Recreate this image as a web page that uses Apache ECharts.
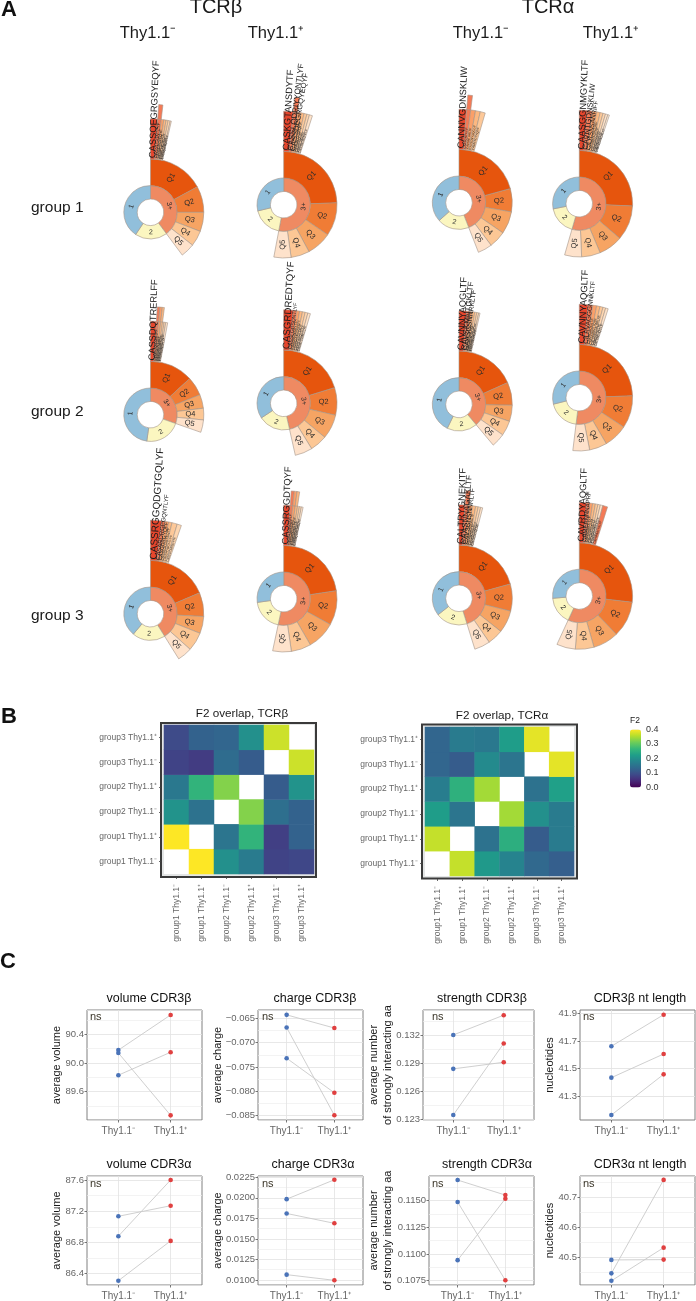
<!DOCTYPE html>
<html><head><meta charset="utf-8">
<style>html,body{margin:0;padding:0;background:#fff}#c{width:696px;height:1301px}</style>
<script src="https://cdn.jsdelivr.net/npm/echarts@6/dist/echarts.min.js"></script>
</head><body><div id="c"></div>
<script>
const FONT = '"Liberation Sans", Arial, sans-serif';
/* ---------- Panel A data (row by row, degrees of arc) ---------- */
const ringOne = [146.3,103.5,132,101.3, 172,123.1,154,104, 140,98,128.1,95];
const ringTwo = [70.3,65.8,69.4,62.7, 78.7,69.5,66,69, 72,70,69.2,60.2];
const quintiles = [
 [61.5,28.5,21,17,15.4],[88,36.4,27.3,20.3,18.7],[74.7,25.3,24.5,18.5,15.6],[92.5,38.1,26.4,20.5,18.5],
 [47.3,20.7,15,12.7,13.6],[72.9,30.1,26.6,18.8,19],[66,25,17.7,16.3,15],[88,35.5,26.1,19.2,18.2],
 [67,26,18.6,20.4,16],[81.4,37.6,31,21.7,20.3],[74.4,29.6,24.4,17.1,17.2],[96.8,39.2,28,20.3,20.5]];
const cloneArcs = [
 [4.4,2.2,1.6,1.4,1.3,1.3,0.7],[5.9,2.6,2.2,1.9,1.8,1.6,1.9],[4.7,2.5,3,3,3.1],[4.9,3.2,2.6,2.2,1.8,1.6,1.5,1],
 [3.6,1.4,1.3,1.1,1,1,1.2],[5.9,2,1.9,1.8,1.7,1.7,1.6],[4.7,2,1.6,1.4,1.3,1.2,0.8],[5.5,2.8,2.4,2.1,1.9,1.7,1.6],
 [6.9,2.2,2.1,2.1,3.3,2.7],[4,1.6,1.5,1.4,1.2,1.2,1.1],[3.7,2.4,2.2,2,1.6,1.5,1.3],[4.5,1.9,1.8,1.7,1.6,1.5,1.6,3]];
const cloneTall = [ [1],[1],[1],[], [1,2,3],[],[],[], [],[1,2,3],[1],[] ];
const cloneNames = [
 ['CASSQEGRGSYEQYF','CASSLGGNTLYF','CASSDRGYEQYF','CASSPGTGGYTF','CASRDWGYEQYF','CASSLDRGPFF','CASSQDNQAPLF'],
 ['CASKGTANSDYTF','CASSLQDRIYYQNTLYF','CASSDEGRGQYEQYF','CASSLGGEQFF','CASSPRQGFF','CASSIGAEQFF','CASSRGNQAPLF'],
 ['CANNVGDNSKLIW','CAASGNYKYIF','CAVSNTGKLTF','CALSDNYAQGLIF','CAMNSGTYQRF'],
 ['CAASGGNMGYKLTF','CAVNTGDNSKLIW','CILRSNSANRIFF','CAVSMNYNQGKF','CALGSALGRLHF','CAASRNNRIFF','CAVTNAYKVIF','CAMREGADRLTF'],
 ['CASSDQTRERLFF','CASRGQGAERLFF','CASSLDRGEQFF','CASRDNYAEQFF','CASSPGGAETLYF','CASSLGWGDTQYF','CASSRDNSPLYF'],
 ['CASGRDREDTQYF','CASSLGGSQNTLYF','CASSRGNSDYTF','CASSQDWGGAEQFF','CASSPTGGYEQYF','CASSLRGQNTLYF','CASRTGGAETLYF'],
 ['CAVNNYAQGLTF','CAVSKMNTGKLTF','CAASGSNNRKLTF','CALSGNYKYVF','CAMRDSNYQLIW','CAASRGSALGRLHF','CATDTNAYKVIF'],
 ['CAVNNYAQGLTF','CILRVAGGGNNKLTF','CAVRGAQGLTF','CAASANSGTYQRF','CALSDRGSALGRLHF','CAMSNYNVLYF','CATGNYAQGLIF'],
 ['CASSRGGQDGTGQLYF','CASARDRGPGQNTLYF','CASGDRGYQFF','CASSLGLGGYEQYF','CASSPDWGNTLYF','CASSGTANSDYTF'],
 ['CASSRGGDTQYF','CASSLGDNQAPLF','CASRGQGAEQFF','CASSDWGGYEQYF','CASRTGQNTLYF','CASSPGSYEQYF','CASSQEGGAEQFF'],
 ['CALTRYGNEKITF','CAASNNAGAKLTF','CAVSGNSNNRLTF','CAMREGSGGKLTF','CALGNTGKLTF','CAASSGSWQLIF','CAVSDNYQLIW'],
 ['CAVRDYAQGLTF','CAMERNNNAPRF','CAASGNYKYVF','CALSDSNYQLIW','CAVTGNTGKLTF','CATNSAGNKLTF','CAMSGGSNYKLTF','CAVSNMGYKLTF']];
const quintileNames = ['Q1','Q2','Q3','Q4','Q5'];
const columnCentres = [150.5,283.7,459,579.3];
const rowCentres = [[212.3,204.7,202.7,203.7],[414.7,403.3,404.3,397.7],[613.7,598.7,598.3,596]];
/* ---------- Panel B data ---------- */
const heatLabels = ['group1 Thy1.1⁻','group1 Thy1.1⁺','group2 Thy1.1⁻','group2 Thy1.1⁺','group3 Thy1.1⁻','group3 Thy1.1⁺'];
const overlapBeta = [ /* row = y label, from group1 Thy1.1- up */
 [null,.4,.2,.165,.08,.085],
 [.4,null,.155,.26,.075,.125],
 [.205,.15,null,.325,.145,.125],
 [.16,.26,.325,null,.115,.205],
 [.08,.07,.14,.115,null,.37],
 [.09,.125,.13,.2,.37,null]];
const overlapAlpha = [
 [null,.365,.215,.18,.135,.12],
 [.365,null,.15,.25,.115,.165],
 [.22,.155,null,.345,.2,.165],
 [.17,.255,.345,null,.15,.225],
 [.13,.115,.19,.155,null,.385],
 [.13,.165,.16,.22,.385,null]];
/* ---------- Panel C data ---------- */
const pairTitles = ['volume CDR3β','charge CDR3β','strength CDR3β','CDR3β nt length','volume CDR3α','charge CDR3α','strength CDR3α','CDR3α nt length'];
const pairYNames = ['average volume','average charge','average number\nof strongly interacting aa','nucleotides','average volume','average charge','average number\nof strongly interacting aa','nucleotides'];
const pairCategories = ['Thy1.1⁻','Thy1.1⁺'];
const thyMinus = [[90.18,90.14,89.83],[-.0643,-.0669,-.0732],[.132,.1284,.1235],[41.662,41.435,41.165],
                  [87.135,86.88,86.31],[.01984,.0181,.01065],[.11694,.11488,.10943],[40.49,40.445,40.42]];
const thyPlus  = [[90.67,89.27,90.15],[-.067,-.0849,-.0803],[.1341,.1291,.1311],[41.89,41.606,41.459],
                  [87.27,87.6,86.82],[.0222,.0169,.00996],[.11553,.10754,.11519],[40.491,40.758,40.531]];
const yMins = [89.205,-.08588,.12297,41.129,86.255,.00939,.1071,40.406];
const yMaxs = [90.739,-.0633,.13465,41.924,87.651,.02266,.11732,40.771];
const ySteps = [.4,.005,.003,.2,.4,.0025,.0025,.1];
const yDigits = [1,3,3,1,1,4,4,1];
const oddTickLabels = {3:[41.3,41.5,41.7,41.9]};

/* ---------- layout & styles ---------- */
const ramp = ['#e5462d','#f47a56','#fb9f68','#fdb880','#fdc898','#fed6b0','#fee3ca','#fdebd8'];
const qColours = ['#e6550d','#f07c35','#f6a463','#fcc795','#fee2cb'];
const viridis = ['#440154','#482878','#3E4A89','#31688E','#26828E','#1F9E89','#35B779','#6DCD59','#B4DE2C','#FDE725'];
const pairBoxes = [[87,1010,115,110],[258,1010,105,110],[423,1010,111,110],[580,1010,115,110],
                   [87,1176,115,109],[258,1176,105,109],[429,1176,105,109],[580,1176,115,109]];
const nameGaps = [23,33,28,23,23,33,34,23];
const titleX = [144,310,477,635,144,308,482,635];
const nsX = [90,262,432,583,90,262,432,583];
const heatBoxes = [[164,725,150,149],[425,727,149,149]];
const heatFrames = [[161,723,155,154],[422,724.5,155,154]];
const cloneFontSizes = [[9.3,4.5,3.5],[9.3,8,7.5,4],[9.3,3,3],[9.3,7.7,6.3,3.5],
                        [9.3,3.5,3],[9.7,5,3.5],[9.2,8,7,3.5],[9.3,6.5,3.5],
                        [10,6,5,3.5],[9.3,3.5,3],[9.3,8,6.5,3.5],[9.3,6,3.5]];
const tinyFont = 3;

const text = (t, x, y, size, opt) => Object.assign({
  type:'text', x, y, silent:true,
  style:Object.assign({text:t, x:0, y:0, font:(opt&&opt.bold?'bold ':'')+size+'px '+FONT, fill:(opt&&opt.fill)||'#1a1a1a', textAlign:(opt&&opt.align)||'center', textVerticalAlign:'middle'})
}, {z:20});

function sunburstSeries(i, cx, cy){
  const salmonLast = i === 11;
  const clones = cloneArcs[i].map((v,k)=>{
    const last = salmonLast && k === cloneArcs[i].length-1;
    const colour = last ? ramp[1] : ramp[k];
    const size = cloneFontSizes[i][k] || tinyFont;
    const node = {name:cloneNames[i][k], value:v, itemStyle:{color:colour}, label:{fontSize:size}};
    if (cloneTall[i].includes(k)) node.children=[{name:'',value:v,itemStyle:{color:colour}}];
    return node;
  });
  const qs = quintiles[i].map((v,k)=>{
    const n = {name:quintileNames[k], value:v, itemStyle:{color:qColours[k]}};
    if (k===0) n.children = clones;
    return n;
  });
  return {
    type:'sunburst', center:[cx,cy], sort:null, nodeClick:false, startAngle:90, clockwise:true,
    emphasis:{focus:'none'}, animation:false, silent:true,
    itemStyle:{borderColor:'#a39488',borderWidth:0.6},
    label:{fontFamily:FONT,color:'#2b2b2b'},
    levels:[{},
      {radius:[13.3,26.7],label:{rotate:'tangential',fontSize:7}},
      {radius:[26.7,53.3],label:{rotate:'radial',fontSize:7.5}},
      {radius:[53.3,93.5],label:{rotate:'radial',align:'left',distance:1,color:'#1a1a1a'}},
      {radius:[93.5,108],label:{show:false}}],
    data:[
      {name:'3+',children:qs,itemStyle:{color:'#ef8a62'}},
      {name:'2',value:ringTwo[i],itemStyle:{color:'#fbf6c0'}},
      {name:'1',value:ringOne[i],itemStyle:{color:'#91bfdb'}}
    ]
  };
}

const grids=[], xAxes=[], yAxes=[], series=[], titles=[], graphics=[];

/* Panel A */
rowCentres.forEach((row,r)=>row.forEach((cy,c)=>series.push(sunburstSeries(r*4+c,columnCentres[c],cy))));
[['A',9,10],['B',9,717],['C',8,962]].forEach(a=>graphics.push(text(a[0],a[1],a[2],22,{bold:true,fill:'#111'})));
graphics.push(text('TCRβ',216,7,20),text('TCRα',548,7,20));
[[148,'Thy1.1⁻'],[276,'Thy1.1⁺'],[481,'Thy1.1⁻'],[611,'Thy1.1⁺']].forEach(h=>graphics.push(text(h[1],h[0],33,16.5)));
[[208,'group 1'],[412,'group 2'],[616,'group 3']].forEach(h=>graphics.push(text(h[1],31,h[0],15.5,{align:'left'})));

/* Panel B */
[overlapBeta,overlapAlpha].forEach((mat,m)=>{
  const b=heatBoxes[m], f=heatFrames[m], g=grids.length;
  graphics.push({type:'rect',z:-1,silent:true,shape:{x:f[0],y:f[1],width:f[2],height:f[3]},style:{fill:'#e4e6e6',stroke:'#3a3a3a',lineWidth:2}});
  grids.push({left:b[0],top:b[1],width:b[2],height:b[3],show:true,backgroundColor:'#fff',borderWidth:0,containLabel:false});
  const ax={type:'category',data:heatLabels,axisLine:{show:false},offset:3,
    axisTick:{show:true,alignWithLabel:true,length:2,lineStyle:{color:'#444',width:.8}},splitLine:{show:false}};
  xAxes.push(Object.assign({},ax,{gridIndex:g,axisLabel:{rotate:90,interval:0,fontFamily:FONT,fontSize:8.5,color:'#666',margin:7}}));
  yAxes.push(Object.assign({},ax,{gridIndex:g,axisLabel:{interval:0,fontFamily:FONT,fontSize:8.5,color:'#666',margin:4}}));
  const data=[];
  mat.forEach((row,y)=>row.forEach((v,x)=>{ if(v!==null) data.push([x,y,v]); }));
  series.push({type:'heatmap',xAxisIndex:g,yAxisIndex:g,data,silent:true,animation:false,progressive:0,itemStyle:{borderWidth:0}});
});
const heatSeriesIdx=[series.length-2,series.length-1];
titles.push({text:'F2 overlap, TCRβ',left:237,top:703,textAlign:'center',textStyle:{fontFamily:FONT,fontSize:11.7,fontWeight:'normal',color:'#1a1a1a'}});
titles.push({text:'F2 overlap, TCRα',left:497,top:705,textAlign:'center',textStyle:{fontFamily:FONT,fontSize:11.7,fontWeight:'normal',color:'#1a1a1a'}});
graphics.push(text('F2',630,721,8.5,{align:'left'}));

/* colour-bar axis */
{
  const g=grids.length;
  grids.push({left:630,top:729.5,width:11,height:58,show:false});
  xAxes.push({type:'value',gridIndex:g,show:false,min:0,max:1});
  yAxes.push({type:'value',gridIndex:g,min:0,max:.4,interval:.1,position:'right',z:8,splitLine:{show:false},axisLine:{show:false},
    axisTick:{show:true,inside:true,length:2.5,lineStyle:{color:'#fff',width:.8}},
    axisLabel:{fontFamily:FONT,fontSize:9,color:'#333',margin:5,inside:false,formatter:v=>v.toFixed(1)}});
}

/* Panel C */
pairTitles.forEach((t,i)=>{
  const b=pairBoxes[i], g=grids.length, odd=oddTickLabels[i];
  const majorLine={color:'#e2e2e2',width:.8}, minorLine={color:'#eeeeee',width:.7};
  grids.push({left:b[0],top:b[1],width:b[2],height:b[3],show:true,borderColor:'#808080',borderWidth:1,backgroundColor:'#fff'});
  xAxes.push({type:'value',gridIndex:g,min:.4,max:2.6,minInterval:1,maxInterval:1,
    axisLine:{show:false},
    axisTick:{show:true,length:2.5,customValues:[1,2],lineStyle:{color:'#555',width:.8}},
    splitLine:{show:true,lineStyle:{color:'#e2e2e2',width:.8}},
    axisLabel:{customValues:[1,2],formatter:v=>pairCategories[Math.round(v)-1],fontFamily:FONT,fontSize:10,color:'#666',margin:6}});
  const yLabel={fontFamily:FONT,fontSize:9.5,color:'#666',margin:3,formatter:v=>v.toFixed(yDigits[i]).replace('-','−')};
  const yTick={show:true,length:2.5,lineStyle:{color:'#555',width:.8}};
  if (odd){ yLabel.customValues=odd; yTick.customValues=odd; }
  else { yLabel.showMinLabel=false; yLabel.showMaxLabel=false; }
  yAxes.push({type:'value',gridIndex:g,min:yMins[i],max:yMaxs[i],minInterval:ySteps[i],maxInterval:ySteps[i],
    axisLine:{show:false},axisTick:yTick,
    splitLine:{show:true,lineStyle:odd?minorLine:majorLine},
    minorTick:{show:false,splitNumber:2},minorSplitLine:{show:true,lineStyle:odd?majorLine:minorLine},
    axisLabel:yLabel,
    name:pairYNames[i],nameLocation:'middle',nameGap:nameGaps[i],nameRotate:90,nameMoveOverlap:false,
    nameTextStyle:{fontFamily:FONT,fontSize:11,color:'#1a1a1a',lineHeight:14}});
  thyMinus[i].forEach((v,k)=>{
    series.push({type:'line',xAxisIndex:g,yAxisIndex:g,silent:true,animation:false,symbol:'circle',symbolSize:4.6,showSymbol:true,clip:false,
      lineStyle:{color:'#c9c9c9',width:.9},
      data:[{value:[1,v],itemStyle:{color:'#4a73b8'}},{value:[2,thyPlus[i][k]],itemStyle:{color:'#e04040'}}]});
  });
  titles.push({text:t,left:titleX[i],top:i<4?987:1153,textAlign:'center',textStyle:{fontFamily:FONT,fontSize:12.5,fontWeight:'normal',color:'#111'}});
  graphics.push(text('ns',nsX[i],i<4?1017:1184,11,{align:'left',fill:'#3a3528'}));
});

const chart=echarts.init(document.getElementById('c'),null,{renderer:'canvas',width:696,height:1301});
chart.setOption({
  animation:false,backgroundColor:'#fff',textStyle:{fontFamily:FONT},
  title:titles,grid:grids,xAxis:xAxes,yAxis:yAxes,
  visualMap:{type:'continuous',seriesIndex:heatSeriesIdx,min:0,max:.4,inRange:{color:viridis},calculable:false,
    left:630,top:729.5,itemWidth:11,itemHeight:58,text:null,showLabel:false,realtime:false,hoverLink:false,dimension:2,padding:0},
  series,
  graphic:{elements:graphics}
});
</script></body></html>
